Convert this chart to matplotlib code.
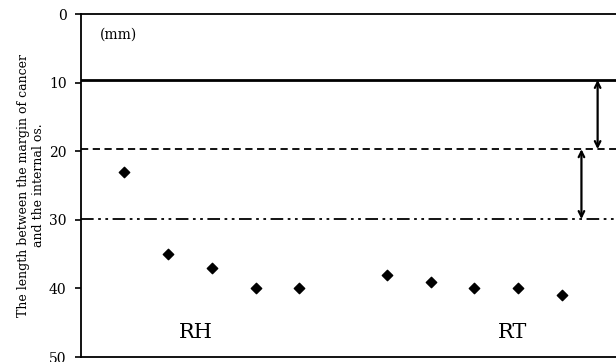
import matplotlib.pyplot as plt
import numpy as np

# Margin-to-internal-os distance per case (mm)
rh_pos = [1, 2, 3, 4, 5]
rh_len = [23, 35, 37, 40, 40]
rt_pos = [7, 8, 9, 10, 11]
rt_len = [38, 39, 40, 40, 41]

# Reference levels (mm)
solid_level = 9.6
dashed_level = 19.7
dashdot_level = 29.9

plt.rcParams["font.family"] = ["DejaVu Serif"]

fig = plt.figure(figsize=(6.16, 3.62), dpi=100)
ax = fig.add_axes([0.1307, 0.0138, 0.8693, 0.9475])

ax.scatter(rh_pos + rt_pos, rh_len + rt_len, marker="D", s=28,
           color="black", zorder=3)

ax.axhline(solid_level, color="black", lw=2.0)
ax.axhline(dashed_level, color="black", lw=1.3, ls=(0, (4, 2.5)))
ax.axhline(dashdot_level, color="black", lw=1.3,
           ls=(0, (7, 2.5, 1.5, 2.5, 1.5, 2.5)))

# Double arrows spanning the gaps between levels
ax.annotate("", xy=(11.82, solid_level), xytext=(11.82, dashed_level),
            arrowprops=dict(arrowstyle="<->", lw=1.6, color="black",
                            shrinkA=0, shrinkB=0))
ax.annotate("", xy=(11.45, dashed_level), xytext=(11.45, dashdot_level),
            arrowprops=dict(arrowstyle="<->", lw=1.6, color="black",
                            shrinkA=0, shrinkB=0))

ax.text(0.45, 3.0, "(mm)", fontsize=10, ha="left", va="center")
ax.text(2.64, 46.5, "RH", fontsize=15, ha="center", va="center")
ax.text(9.88, 46.5, "RT", fontsize=15, ha="center", va="center")

ax.set_xlim(0, 12.24)
ax.set_ylim(50, 0)
ax.set_yticks(np.arange(0, 51, 10))
ax.set_xticks([])
ax.tick_params(axis="y", direction="out", length=4, width=1.2,
               labelsize=10, pad=6)
ax.spines["right"].set_visible(False)
for side in ["left", "top", "bottom"]:
    ax.spines[side].set_linewidth(1.3)

ax.set_ylabel("The length between the margin of cancer\nand the internal os.",
              fontsize=9, labelpad=3)

fig.savefig("out.png", dpi=100)
